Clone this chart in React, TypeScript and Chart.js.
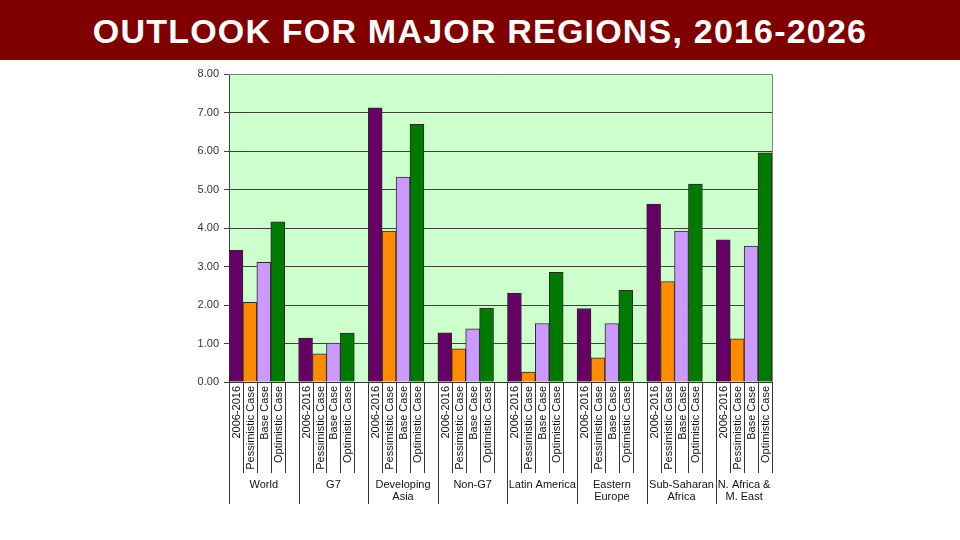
import React, { useEffect, useRef } from "react";
import { Chart, registerables } from "chart.js";

Chart.register(...registerables);

const TITLE = "OUTLOOK FOR MAJOR REGIONS, 2016-2026";
const groups = [
  ["World"],
  ["G7"],
  ["Developing", "Asia"],
  ["Non-G7"],
  ["Latin America"],
  ["Eastern", "Europe"],
  ["Sub-Saharan", "Africa"],
  ["N. Africa &", "M. East"],
];
const seriesLabels = ["2006-2016", "Pessimistic Case", "Base Case", "Optimistic Case"];
const seriesColors = ["#660066", "#ff8c00", "#cc99ff", "#007a00"];
const historical = [3.42, 1.14, 7.12, 1.28, 2.31, 1.91, 4.62, 3.69];
const pessimistic = [2.07, 0.73, 3.92, 0.86, 0.26, 0.63, 2.61, 1.12];
const baseCase = [3.11, 1.01, 5.32, 1.38, 1.52, 1.52, 3.92, 3.53];
const optimistic = [4.16, 1.27, 6.69, 1.92, 2.85, 2.38, 5.14, 5.95];
const yTicks = [0, 1, 2, 3, 4, 5, 6, 7, 8];

const FONT = "'Liberation Sans', Arial, sans-serif";

export default function App() {
  const ref = useRef<HTMLCanvasElement | null>(null);

  useEffect(() => {
    const series = [historical, pessimistic, baseCase, optimistic];
    const labels: string[] = [];
    const values: (number | null)[] = [];
    const colors: string[] = [];
    groups.forEach((_, g) => {
      series.forEach((s, k) => {
        labels.push(seriesLabels[k]);
        values.push(s[g]);
        colors.push(seriesColors[k]);
      });
      if (g < groups.length - 1) {
        labels.push("");
        values.push(null);
        colors.push("transparent");
      }
    });

    const plugin = {
      id: "decor",
      beforeDraw(chart: any) {
        const { ctx, chartArea: a } = chart;
        ctx.save();
        ctx.fillStyle = "#ccffcc";
        ctx.fillRect(a.left, a.top, a.right - a.left, a.bottom - a.top);
        ctx.restore();
      },
      afterDraw(chart: any) {
        const { ctx, chartArea: a } = chart;
        const xs = chart.scales.x;
        const half = (xs.getPixelForValue(1) - xs.getPixelForValue(0)) / 2;
        const n = labels.length;
        ctx.save();
        ctx.strokeStyle = "#808080";
        ctx.lineWidth = 1;
        ctx.beginPath();
        ctx.moveTo(a.left, Math.round(a.top) + 0.5);
        ctx.lineTo(Math.round(a.right) + 0.5, Math.round(a.top) + 0.5);
        ctx.lineTo(Math.round(a.right) + 0.5, a.bottom);
        ctx.stroke();
        ctx.strokeStyle = "#333";
        for (let k = 0; k <= n; k++) {
          const x = Math.round(xs.getPixelForValue(k) - half) + 0.5;
          const long = k % 5 === 0 && k < n;
          ctx.beginPath();
          ctx.moveTo(x, a.bottom);
          ctx.lineTo(x, long ? a.bottom + 122 : a.bottom + 91);
          ctx.stroke();
        }
        ctx.fillStyle = "#111";
        ctx.font = `11px ${FONT}`;
        ctx.textAlign = "center";
        ctx.textBaseline = "middle";
        groups.forEach((lines, g) => {
          const start = xs.getPixelForValue(g * 5) - half;
          const endIdx = Math.min(g * 5 + 5, n);
          const end = xs.getPixelForValue(endIdx) - half;
          const cx = (start + end) / 2;
          lines.forEach((t, i) => {
            ctx.fillText(t, cx, a.bottom + 103 + i * 12);
          });
        });
        ctx.restore();
      },
    };

    const chart = new Chart(ref.current as HTMLCanvasElement, {
      type: "bar",
      data: {
        labels,
        datasets: [
          {
            data: values,
            backgroundColor: colors,
            borderColor: "#2a2a2a",
            borderWidth: 1,
            barPercentage: 1,
            categoryPercentage: 1,
          },
        ],
      },
      options: {
        responsive: false,
        animation: false,
        layout: { padding: { top: 74, right: 188, left: 0, bottom: 0 } },
        plugins: { legend: { display: false }, tooltip: { enabled: false } },
        scales: {
          x: {
            grid: { display: false, drawTicks: false },
            border: { display: true, color: "#333" },
            ticks: {
              autoSkip: false,
              minRotation: 90,
              maxRotation: 90,
              padding: 4,
              labelOffset: 1,
              color: "#111",
              font: { family: FONT, size: 11 },
            },
            afterFit: (s: any) => {
              s.height = 158;
            },
          },
          y: {
            min: 0,
            max: 8,
            afterBuildTicks: (s: any) => {
              s.ticks = yTicks.map((v) => ({ value: v }));
            },
            ticks: {
              callback: (v: any) => Number(v).toFixed(2),
              color: "#333",
              padding: 5,
              font: { family: FONT, size: 11 },
            },
            grid: { color: "#404040", tickLength: 5 },
            border: { color: "#404040" },
            afterFit: (s: any) => {
              s.width = 229;
            },
          },
        },
      },
      plugins: [plugin],
    } as any);
    return () => chart.destroy();
  }, []);

  return (
    <div style={{ position: "absolute", left: 0, top: 0, width: 960, height: 540, background: "#fff" }}>
      <canvas ref={ref} width={960} height={540} style={{ position: "absolute", left: 0, top: 0 }} />
      <div
        style={{
          position: "absolute",
          left: 0,
          top: 0,
          width: 960,
          height: 60,
          background: "#800000",
          color: "#fff",
          fontFamily: FONT,
          fontSize: 34,
          fontWeight: 700,
          letterSpacing: "1.2px",
          textAlign: "center",
          lineHeight: "62px",
          whiteSpace: "nowrap",
        }}
      >
        {TITLE}
      </div>
    </div>
  );
}
